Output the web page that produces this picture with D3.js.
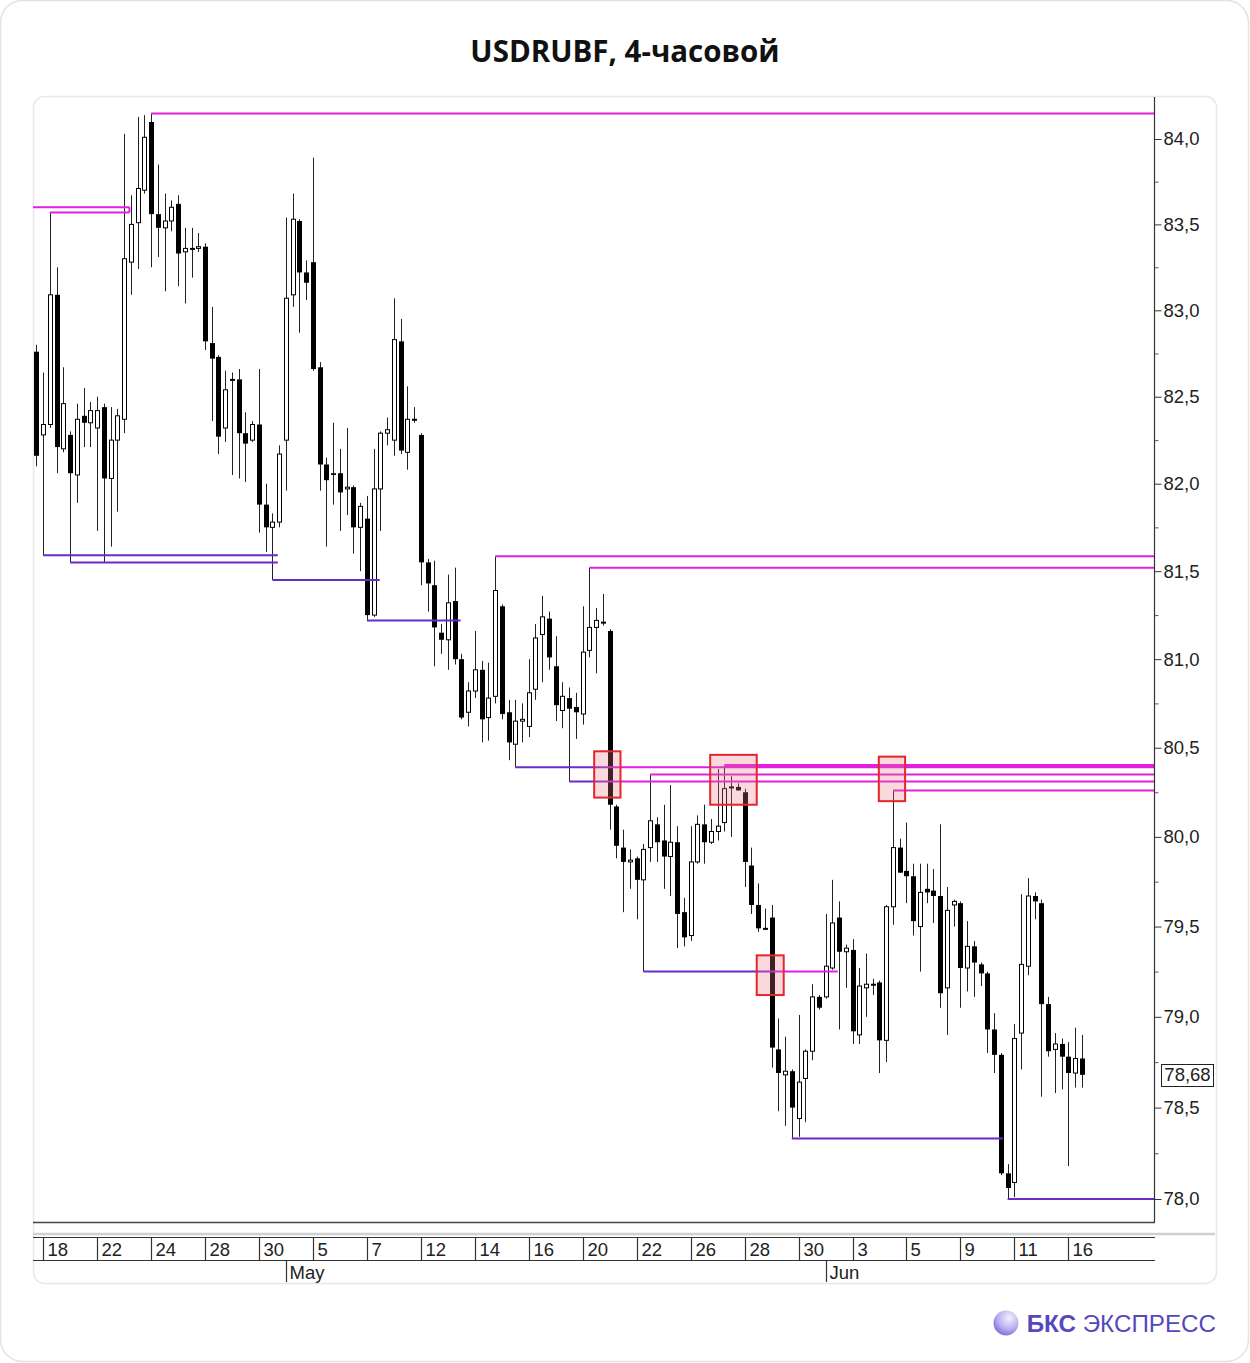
<!DOCTYPE html>
<html><head><meta charset="utf-8">
<script src="https://cdn.jsdelivr.net/npm/d3@7"></script>
<style>body{margin:0;background:#fff}svg{display:block}</style>
</head><body>
<script>
// ---------- DATA (USDRUBF, 4h bars) ----------
const open = [
82.76,82.28,82.34,83.09,82.20,82.28,82.05,82.39,82.35,82.32,
82.44,82.03,82.25,82.37,83.28,83.51,83.70,84.10,83.56,83.48,
83.52,83.62,83.34,83.36,83.36,83.37,82.81,82.73,82.32,82.60,
82.60,82.29,82.25,82.34,81.88,81.75,81.78,82.25,83.09,83.52,
83.22,83.28,82.67,82.11,82.06,82.06,81.97,81.98,81.75,81.80,
81.25,81.97,82.29,82.25,82.82,82.18,82.37,82.28,81.55,81.42,
81.15,81.11,81.33,81.00,80.70,80.82,80.94,80.67,80.79,81.30,
80.70,80.52,80.65,80.62,80.83,81.14,81.23,80.96,80.71,80.78,
80.73,80.69,81.05,81.18,81.21,81.16,80.17,79.94,79.86,79.88,
79.76,79.94,80.07,79.98,79.89,79.97,79.58,79.45,79.86,80.07,
79.97,80.03,80.08,80.28,80.28,80.25,79.84,79.62,79.49,79.55,
78.82,78.68,78.70,78.44,78.66,78.81,79.11,79.11,79.27,79.55,
79.36,79.37,78.90,79.16,79.18,79.19,78.87,79.61,79.94,79.81,
79.78,79.50,79.71,79.70,79.67,79.16,79.62,79.63,79.27,79.39,
79.29,79.24,78.93,78.79,78.14,78.09,78.91,79.28,79.67,79.63,
79.07,78.82,78.85,78.78,78.69,78.77];
const high = [
82.80,82.64,83.57,83.25,82.67,82.30,82.46,82.55,82.47,82.50,
82.46,82.44,82.43,84.03,83.67,84.13,84.14,84.15,83.85,83.68,
83.64,83.67,83.48,83.48,83.45,83.39,83.02,82.74,82.65,82.64,
82.66,82.41,82.36,82.66,82.00,81.83,82.22,83.54,83.68,83.53,
83.29,83.89,82.70,82.15,82.35,82.20,82.32,81.99,81.89,81.93,
82.20,82.30,82.38,83.07,82.95,82.56,82.44,82.29,81.57,81.56,
81.20,81.48,81.52,81.03,80.87,81.16,80.99,80.98,81.585,81.31,
80.77,80.77,80.75,81.00,81.20,81.36,81.27,81.13,80.87,80.84,
80.81,81.30,81.52,81.29,81.37,81.17,80.18,80.04,79.93,79.89,
79.96,80.35,80.11,80.18,80.29,80.06,79.66,80.06,80.12,80.18,
80.10,80.38,80.40,80.34,80.30,80.27,79.94,79.74,79.60,79.62,
78.99,78.89,78.71,79.01,78.82,79.18,79.12,79.57,79.76,79.64,
79.40,79.43,79.27,79.35,79.21,79.20,79.62,80.26,79.99,80.08,
79.85,79.85,79.85,79.82,80.07,79.72,79.65,79.64,79.53,79.42,
79.30,79.25,79.02,78.80,78.19,78.96,79.68,79.77,79.69,79.65,
79.11,78.91,78.88,78.86,78.94,78.90];
const low = [
82.10,81.59,82.32,82.06,82.18,81.55,81.89,82.21,82.21,81.73,
81.55,81.64,81.84,82.29,83.09,83.24,83.68,83.25,83.31,83.11,
83.46,83.14,83.04,83.19,83.34,82.77,82.36,82.17,82.24,82.05,
82.03,82.01,82.24,81.72,81.61,81.45,81.75,81.96,83.02,82.87,
83.06,82.65,81.96,81.64,81.88,81.73,81.82,81.60,81.50,81.22,
81.24,81.73,82.22,82.16,82.17,82.08,82.35,81.42,81.27,80.96,
81.03,80.94,80.97,80.66,80.62,80.78,80.53,80.54,80.75,80.66,
80.43,80.39,80.53,80.56,80.77,80.87,80.94,80.65,80.61,80.31,
80.55,80.63,81.01,80.92,81.19,80.04,79.88,79.58,79.71,79.54,
79.25,79.86,79.86,79.71,79.67,79.38,79.39,79.42,79.85,79.85,
79.96,79.98,80.03,80.00,80.26,79.72,79.57,79.47,79.48,78.72,
78.48,78.40,78.33,78.34,78.42,78.76,79.04,79.10,79.26,78.93,
79.16,78.85,78.85,79.00,79.12,78.69,78.75,79.51,79.80,79.63,
79.45,79.25,79.63,79.52,79.05,78.90,79.50,79.05,79.14,79.11,
79.17,78.80,78.69,78.13,78.00,78.01,78.71,79.23,79.54,78.56,
78.78,78.58,78.60,78.18,78.61,78.61];
const close = [
82.16,82.34,83.09,82.21,82.46,82.06,82.37,82.35,82.42,82.42,
82.03,82.25,82.39,83.30,83.50,83.71,84.01,83.56,83.48,83.52,
83.60,83.33,83.36,83.36,83.37,82.82,82.72,82.27,82.54,82.60,
82.29,82.23,82.34,81.88,81.75,81.78,82.17,83.07,83.53,83.22,
83.16,82.66,82.11,82.02,82.05,81.95,81.98,81.75,81.87,81.25,
81.97,82.29,82.31,82.83,82.19,82.37,82.37,81.55,81.43,81.18,
81.11,81.32,81.00,80.67,80.82,80.94,80.66,80.78,81.39,80.69,
80.53,80.65,80.66,80.81,81.12,81.24,81.01,80.74,80.79,80.72,
80.70,81.04,81.18,81.22,81.21,80.18,79.95,79.86,79.87,79.76,
79.93,80.09,79.97,79.89,79.97,79.57,79.44,79.86,80.07,79.97,
80.03,80.06,80.27,80.28,80.26,79.86,79.62,79.49,79.49,78.83,
78.69,78.70,78.50,78.64,78.81,79.11,79.05,79.28,79.52,79.36,
79.38,78.92,79.17,79.18,79.18,78.87,79.61,79.94,79.80,79.78,
79.53,79.69,79.69,79.67,79.13,79.59,79.64,79.27,79.39,79.30,
79.24,78.93,78.79,78.14,78.06,78.88,79.29,79.67,79.64,79.07,
78.81,78.85,78.78,78.69,78.77,78.68];

// x-axis labels (bar index where each date label starts)
const dateLabels = ["18","22","24","28","30","5","7","12","14","16","20","22","26","28","30","3","5","9","11","16"];
const dateBars   = [1,9,17,25,33,41,49,57,65,73,81,89,97,105,113,121,129,137,145,153];
const monthLabels = ["May","Jun"];
const monthBars   = [37,117];

// y-axis ticks
const priceTicks = [78.0,78.5,79.0,79.5,80.0,80.5,81.0,81.5,82.0,82.5,83.0,83.5,84.0];
const minorTicks = [78.25,78.75,79.25,79.75,80.25,80.75,81.25,81.75,82.25,82.75,83.25,83.75];
const lastPrice = 78.68;

// horizontal levels: price, from bar, to bar (null = plot edge), kind
const levelPrice = [84.15, 83.60, 83.57, 81.585, 81.52, 80.40, 80.35, 80.26,
                    81.59, 81.55, 81.45, 81.22, 80.39, 80.31, 79.25, 78.33, 78.00];
const levelFrom  = [17, null, 2, 68, 82, 102, 91, 127,
                    1, 5, 35, 49, 71, 79, 90, 112, 144];
const levelTo    = [null, 13.8, 13.8, null, null, null, null, null,
                    35.8, 35.8, 50.9, 62.9, null, null, 118.8, 143.3, null];
const levelKind  = ["m","m","m","m","m","mt","m","m",
                    "p","p","p","p","pm","pm","pm","p","p"];
// where purple lines fade into magenta (bar range)
const fadeFrom   = {12: 82.7, 13: 82.7, 14: 106.8};
const fadeTo     = {12: 86.6, 13: 86.6, 14: 110.8};

// red highlight boxes: bar range and price range
const boxFrom = [82.7, 99.9, 124.9, 106.8];
const boxTo   = [86.6, 106.8, 128.8, 110.8];
const boxHi   = [80.48, 80.46, 80.45, 79.34];
const boxLo   = [80.22, 80.18, 80.20, 79.12];

// ---------- DRAW ----------
const W = 1250, H = 1363;
const L = 33, R = 1154, T = 97, B = 1222;
const MAG = "#e020de", PUR = "#6a2bc8";

const svg = d3.select("body").append("svg").attr("width", W).attr("height", H);
const defs = svg.append("defs");

// cards
svg.append("rect").attr("x",0.5).attr("y",0.5).attr("width",W-2).attr("height",H-2)
  .attr("rx",22).attr("fill","#fff").attr("stroke","#e3e3e3").attr("stroke-width",1.5);
svg.append("rect").attr("x",33.5).attr("y",96.5).attr("width",1183).attr("height",1187)
  .attr("rx",11).attr("fill","#fff").attr("stroke","#e8e8e8").attr("stroke-width",1.5);

// title
svg.append("text").attr("x",625).attr("y",62).attr("text-anchor","middle")
  .attr("font-family","'Open Sans', 'Noto Sans', sans-serif").attr("font-weight",700)
  .attr("font-size",29.5).attr("fill","#111").text("USDRUBF, 4-часовой");

const n = close.length;
const x = d3.scaleLinear().domain([-0.5, 165.7]).range([L, R]);
const y = d3.scaleLog().domain([78, 84]).range([1199, 139]);

defs.append("clipPath").attr("id","plot").append("rect")
  .attr("x",L).attr("y",T).attr("width",R-L).attr("height",B-T);

const plot = svg.append("g").attr("clip-path","url(#plot)");

const bars = d3.range(n).map(i => ({i, o:open[i], h:high[i], l:low[i], c:close[i]}));
const bw = 5;
const cx = i => Math.round(x(i)) + 0.5;

// wicks
plot.append("g").selectAll("line").data(bars).join("line")
  .attr("x1", d => cx(d.i)).attr("x2", d => cx(d.i))
  .attr("y1", d => y(d.h)).attr("y2", d => y(d.l))
  .attr("stroke","#222").attr("stroke-width",1);

// bodies
plot.append("g").selectAll("rect").data(bars).join("rect")
  .attr("x", d => cx(d.i) - bw/2 + (d.c >= d.o ? 0.5 : 0))
  .attr("width", d => d.c >= d.o ? bw - 1 : bw)
  .attr("y", d => Math.min(y(d.o), y(d.c)))
  .attr("height", d => Math.max(1, Math.abs(y(d.o) - y(d.c))))
  .attr("fill", d => d.c >= d.o ? "#fff" : "#000")
  .attr("stroke", d => d.c >= d.o ? "#000" : "none")
  .attr("stroke-width", 1);

// levels
levelPrice.forEach((p, k) => {
  const x1 = levelFrom[k] === null ? L : x(levelFrom[k]);
  const x2 = levelTo[k] === null ? R : x(levelTo[k]);
  const kind = levelKind[k];
  let stroke = kind === "p" ? PUR : MAG;
  if (kind === "pm") {
    const id = "fade" + k;
    const g = defs.append("linearGradient").attr("id", id)
      .attr("gradientUnits","userSpaceOnUse")
      .attr("x1", x(fadeFrom[k])).attr("x2", x(fadeTo[k])).attr("y1",0).attr("y2",0);
    g.append("stop").attr("offset",0).attr("stop-color",PUR);
    g.append("stop").attr("offset",1).attr("stop-color",MAG);
    stroke = `url(#${id})`;
  }
  plot.append("line").attr("x1", x1).attr("x2", x2)
    .attr("y1", y(p)).attr("y2", y(p))
    .attr("stroke", stroke).attr("stroke-width", kind === "mt" ? 3.2 : 2);
});
// join of the double magenta line
plot.append("line").attr("x1", x(levelTo[1])).attr("x2", x(levelTo[1]))
  .attr("y1", y(levelPrice[1])).attr("y2", y(levelPrice[2]))
  .attr("stroke", MAG).attr("stroke-width", 2);

// red boxes
boxFrom.forEach((b, k) => {
  plot.append("rect").attr("x", x(b)).attr("width", x(boxTo[k]) - x(b))
    .attr("y", y(boxHi[k])).attr("height", y(boxLo[k]) - y(boxHi[k]))
    .attr("fill","rgba(236,120,130,0.28)").attr("stroke","#e3262b").attr("stroke-width",2);
});

// plot frame lines
svg.append("line").attr("x1",R+0.5).attr("x2",R+0.5).attr("y1",T).attr("y2",B)
  .attr("stroke","#333").attr("stroke-width",1.2);
svg.append("line").attr("x1",L).attr("x2",R+1).attr("y1",B+0.5).attr("y2",B+0.5)
  .attr("stroke","#444").attr("stroke-width",1.6);

// y axis
const fmt = v => d3.format(".1f")(v).replace(".", ",");
const yAxis = svg.append("g").attr("transform",`translate(${R+0.5},0)`)
  .call(d3.axisRight(y).tickValues(priceTicks).tickSize(7).tickPadding(2).tickFormat(fmt));
yAxis.select(".domain").remove();
yAxis.selectAll("line").attr("stroke","#333");
yAxis.selectAll("text").attr("font-family","'Liberation Sans', Arial, sans-serif")
  .attr("font-size",18.5).attr("fill","#222");
const yMinor = svg.append("g").attr("transform",`translate(${R+0.5},0)`)
  .call(d3.axisRight(y).tickValues(minorTicks).tickSize(4).tickFormat(""));
yMinor.select(".domain").remove();
yMinor.selectAll("line").attr("stroke","#555");

// last price box
const ly = y(lastPrice);
svg.append("rect").attr("x",1161.5).attr("y",Math.round(ly)-10.5).attr("width",52).attr("height",22)
  .attr("fill","#fff").attr("stroke","#222").attr("stroke-width",1);
svg.append("text").attr("x",1187.5).attr("y",ly).attr("dy","0.35em").attr("text-anchor","middle")
  .attr("font-family","'Liberation Sans', Arial, sans-serif").attr("font-size",18.5).attr("fill","#222")
  .text(d3.format(".2f")(lastPrice).replace(".", ","));

// x axis
svg.append("line").attr("x1",L).attr("x2",1215).attr("y1",1234).attr("y2",1234)
  .attr("stroke","#cfcfcf").attr("stroke-width",2.5);
[1237.5, 1260.5].forEach(v => svg.append("line").attr("x1",L).attr("x2",R+1).attr("y1",v).attr("y2",v)
  .attr("stroke","#333").attr("stroke-width",1.2));
const xg = svg.append("g");
xg.selectAll("line.d").data(dateBars).join("line").attr("class","d")
  .attr("x1", d => cx(d)).attr("x2", d => cx(d)).attr("y1",1237.5).attr("y2",1260.5)
  .attr("stroke","#333").attr("stroke-width",1.2);
xg.selectAll("text.d").data(dateBars).join("text").attr("class","d")
  .attr("x", d => cx(d) + 4).attr("y",1256)
  .attr("font-family","'Liberation Sans', Arial, sans-serif").attr("font-size",18.5).attr("fill","#222")
  .text((d,i) => dateLabels[i]);
xg.selectAll("line.m").data(monthBars).join("line").attr("class","m")
  .attr("x1", d => cx(d)).attr("x2", d => cx(d)).attr("y1",1260.5).attr("y2",1282)
  .attr("stroke","#333").attr("stroke-width",1.2);
xg.selectAll("text.m").data(monthBars).join("text").attr("class","m")
  .attr("x", d => cx(d) + 3).attr("y",1279)
  .attr("font-family","'Liberation Sans', Arial, sans-serif").attr("font-size",18.5).attr("fill","#222")
  .text((d,i) => monthLabels[i]);

// logo
const rg = defs.append("radialGradient").attr("id","logoG").attr("cx","0.62").attr("cy","0.3").attr("r","0.8");
rg.append("stop").attr("offset",0).attr("stop-color","#f4f1ff");
rg.append("stop").attr("offset",0.55).attr("stop-color","#b9b0f0");
rg.append("stop").attr("offset",1).attr("stop-color","#6d60d8");
svg.append("circle").attr("cx",1006).attr("cy",1323).attr("r",12.5).attr("fill","url(#logoG)");
const lt = svg.append("text").attr("x",1216).attr("y",1332).attr("text-anchor","end")
  .attr("font-family","'Liberation Sans', Arial, sans-serif").attr("font-size",24.2).attr("fill","#5548bd");
lt.append("tspan").attr("font-weight",700).text("БКС");
lt.append("tspan").text(" ЭКСПРЕСС");
</script>
</body></html>
